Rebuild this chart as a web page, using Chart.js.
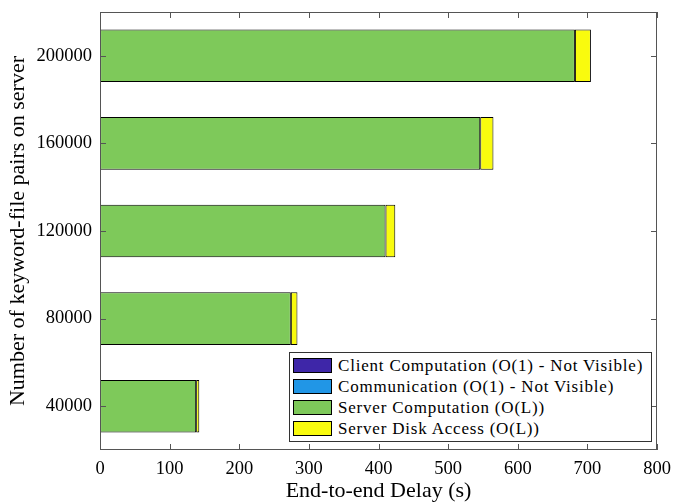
<!DOCTYPE html>
<html>
<head>
<meta charset="utf-8">
<script src="https://cdn.jsdelivr.net/npm/chart.js@4"></script>
<style>
  body { margin: 0; background: #fff; }
  #wrap { position: relative; width: 675px; height: 504px; }
  #legend {
    position: absolute; left: 289px; top: 352px; width: 363px;
    border: 1px solid #333; background: #fff; padding: 2px 0 2px 3px;
    font-family: 'Liberation Serif', 'DejaVu Serif', serif; font-size: 17px; letter-spacing: 0.8px; color: #000;
    box-sizing: border-box;
  }
  .item { display: flex; align-items: center; height: 21px; white-space: nowrap; }
  .sw { width: 39px; height: 15px; border: 1px solid #000; margin-right: 6px; box-sizing: border-box; }
</style>
</head>
<body>
<div id="wrap">
  <canvas id="chart" width="675" height="504"></canvas>
  <div id="legend"></div>
</div>
<script>
const categories = ['40000', '80000', '120000', '160000', '200000'];
const clientComputation = [0.05, 0.05, 0.05, 0.05, 0.05];
const communication = [0.05, 0.05, 0.05, 0.05, 0.05];
const serverComputation = [138, 274, 410, 546, 682];
const serverDiskAccess = [4.5, 9.5, 14, 19, 23];
const xTicks = [0, 100, 200, 300, 400, 500, 600, 700, 800];

const seriesNames = [
    'Client Computation (O(1) - Not Visible)',
    'Communication (O(1) - Not Visible)',
    'Server Computation (O(L))',
    'Server Disk Access (O(L))'
];
const seriesColors = ['#3e26a8', '#2196e6', '#7ec95a', '#f9fb0e'];
const seriesData = [clientComputation, communication, serverComputation, serverDiskAccess];

const font = "'Liberation Serif', 'DejaVu Serif', serif";
const axisColor = '#555';

// box around the plot with inward ticks, like the MATLAB default
const boxPlugin = {
    id: 'box',
    afterDatasetsDraw(chart) {
        const { ctx, chartArea: a, scales } = chart;
        ctx.save();
        ctx.strokeStyle = axisColor;
        ctx.lineWidth = 1;
        ctx.strokeRect(a.left + 0.5, a.top + 0.5, a.right - a.left - 1, a.bottom - a.top - 1);
        ctx.beginPath();
        xTicks.forEach(v => {
            const x = Math.round(scales.x.getPixelForValue(v)) + 0.5;
            ctx.moveTo(x, a.bottom); ctx.lineTo(x, a.bottom - 6);
            ctx.moveTo(x, a.top); ctx.lineTo(x, a.top + 6);
        });
        categories.forEach((c, i) => {
            const y = Math.round(scales.y.getPixelForValue(i)) + 0.5;
            ctx.moveTo(a.left, y); ctx.lineTo(a.left + 6, y);
            ctx.moveTo(a.right, y); ctx.lineTo(a.right - 6, y);
        });
        ctx.stroke();
        ctx.restore();
    }
};

const chart = new Chart(document.getElementById('chart').getContext('2d'), {
    type: 'bar',
    data: {
        labels: categories,
        datasets: seriesNames.map((name, i) => ({
            label: name,
            data: seriesData[i],
            backgroundColor: seriesColors[i],
            borderColor: '#000',
            borderWidth: 1,
            borderSkipped: false,
            categoryPercentage: 1,
            barPercentage: 0.6
        }))
    },
    options: {
        indexAxis: 'y',
        responsive: false,
        animation: false,
        layout: { padding: { top: 12, right: 18, left: 0, bottom: 0 } },
        plugins: { legend: { display: false }, tooltip: { enabled: false } },
        scales: {
            x: {
                stacked: true,
                min: 0,
                max: 800,
                afterBuildTicks: scale => { scale.ticks = xTicks.map(v => ({ value: v })); },
                afterFit: scale => {
                    scale.height = 54;
                    scale.paddingLeft = 0;
                    scale.paddingRight = 0;
                },
                grid: { display: false, drawTicks: false },
                border: { display: false },
                ticks: { color: '#000', font: { family: font, size: 18.5 }, padding: 8, maxRotation: 0 },
                title: { display: true, text: 'End-to-end Delay (s)', color: '#000', font: { family: font, size: 22 }, padding: { top: 0, bottom: 0 } }
            },
            y: {
                stacked: true,
                reverse: true,
                offset: true,
                afterFit: scale => {
                    scale.width = 100;
                    scale.paddingTop = 0;
                    scale.paddingBottom = 0;
                },
                grid: { display: false, drawTicks: false },
                border: { display: false },
                ticks: { color: '#000', font: { family: font, size: 18.5 }, padding: 8 },
                title: { display: true, text: 'Number of keyword-file pairs on server', color: '#000', font: { family: font, size: 22 }, padding: { top: 5, bottom: 0 } }
            }
        }
    },
    plugins: [boxPlugin]
});

const legend = document.getElementById('legend');
chart.data.datasets.forEach(ds => {
    const row = document.createElement('div');
    row.className = 'item';
    const sw = document.createElement('div');
    sw.className = 'sw';
    sw.style.background = ds.backgroundColor;
    const label = document.createElement('span');
    label.textContent = ds.label;
    row.appendChild(sw);
    row.appendChild(label);
    legend.appendChild(row);
});
</script>
</body>
</html>
